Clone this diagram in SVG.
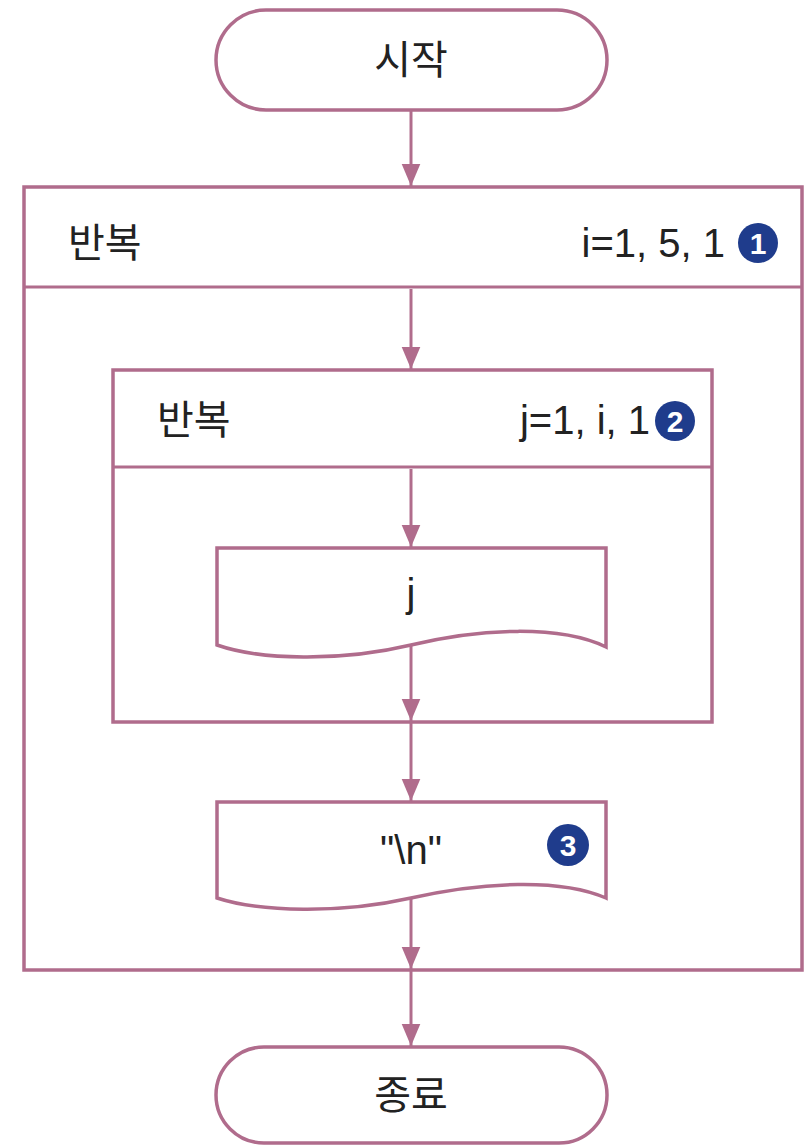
<svg xmlns="http://www.w3.org/2000/svg" width="805" height="1146" viewBox="0 0 805 1146">
<style>
.s{fill:#fff;stroke:#b06c8c;stroke-width:3.5}
.c{stroke:#b06c8c;stroke-width:3;fill:none}
.t{font-family:"Liberation Sans","Noto Sans CJK KR",sans-serif;font-size:40px;fill:#222}
.n{fill:#1f3c8c}
.nt{font-family:"Liberation Sans",sans-serif;font-size:30px;font-weight:bold;fill:#fff}
</style>
<defs>
<marker id="a" markerWidth="22" markerHeight="26" refX="26" refY="11" orient="auto" markerUnits="userSpaceOnUse" viewBox="0 0 26 22">
<path d="M0,0 L26,11 L0,22 Z" fill="#b06c8c"/>
</marker>
</defs>
<g id="start">
<rect class="s" x="216" y="10" width="391" height="100" rx="50"/>
<text class="t" x="411" y="74" text-anchor="middle">시작</text>
</g>
<g id="loop1">
<rect class="s" x="24" y="187" width="778" height="783"/>
<line class="c" x1="24" y1="287" x2="802" y2="287" stroke-width="3.5"/>
<text class="t" x="68" y="257">반복</text>
<text class="t" x="725" y="257" text-anchor="end">i=1, 5, 1</text>
<circle class="n" cx="758" cy="243" r="20"/>
<text class="nt" x="758" y="254" text-anchor="middle">1</text>
</g>
<g id="loop2">
<rect class="s" x="113" y="370" width="599" height="352"/>
<line class="c" x1="113" y1="467" x2="712" y2="467" stroke-width="3.5"/>
<text class="t" x="157" y="434">반복</text>
<text class="t" x="650" y="434" text-anchor="end">j=1, i, 1</text>
<circle class="n" cx="675" cy="421" r="20"/>
<text class="nt" x="675" y="432" text-anchor="middle">2</text>
</g>
<g id="printj">
<path class="s" d="M217,548 L606,548 L606,647 C560,625 482,628 411,645 C340,662 260,660 217,645 Z"/>
<text class="t" x="411" y="607" text-anchor="middle">j</text>
</g>
<g id="printn">
<path class="s" d="M217,802 L606,802 L606,898 C560,878 482,882 411,898 C340,914 260,912 217,898 Z"/>
<text class="t" x="411" y="864" text-anchor="middle">"\n"</text>
<circle class="n" cx="568" cy="845" r="21"/>
<text class="nt" x="568" y="856" text-anchor="middle">3</text>
</g>
<g id="end">
<rect class="s" x="216" y="1047" width="391" height="96" rx="48"/>
<text class="t" x="411" y="1109" text-anchor="middle">종료</text>
</g>
<g id="connectors">
<line class="c" x1="411" y1="110" x2="411" y2="186" marker-end="url(#a)"/>
<line class="c" x1="411" y1="289" x2="411" y2="369" marker-end="url(#a)"/>
<line class="c" x1="411" y1="469" x2="411" y2="547" marker-end="url(#a)"/>
<line class="c" x1="411" y1="645" x2="411" y2="721" marker-end="url(#a)"/>
<line class="c" x1="411" y1="722" x2="411" y2="801" marker-end="url(#a)"/>
<line class="c" x1="411" y1="898" x2="411" y2="969" marker-end="url(#a)"/>
<line class="c" x1="411" y1="970" x2="411" y2="1046" marker-end="url(#a)"/>
</g>
</svg>
